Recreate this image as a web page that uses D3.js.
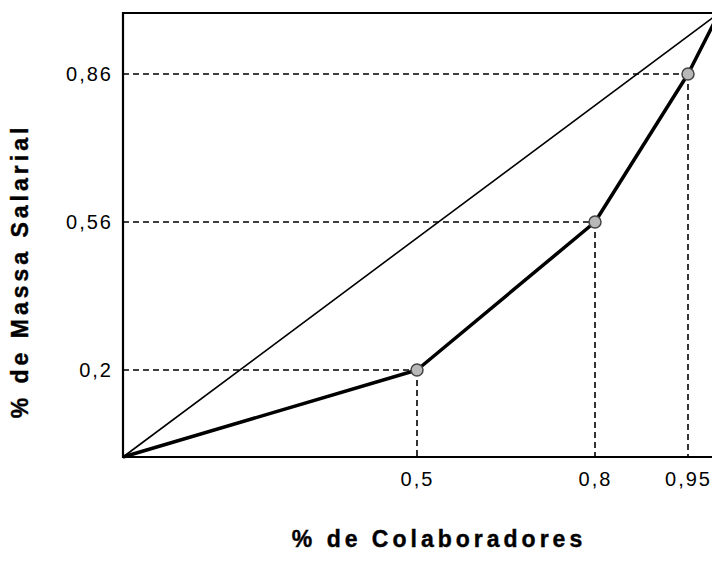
<!DOCTYPE html>
<html>
<head>
<meta charset="utf-8">
<script src="https://cdn.jsdelivr.net/npm/d3@7"></script>
<style>
  body { margin: 0; background: #fff; }
  svg { display: block; }
  .tick text { font-family: "Liberation Sans", Arial, sans-serif; font-size: 20px; letter-spacing: 2px; fill: #000; }
  .title { font-family: "Liberation Sans", Arial, sans-serif; font-weight: bold; font-size: 23px; letter-spacing: 4px; fill: #000; stroke: #000; stroke-width: 0.4px; }
</style>
</head>
<body>
<script>
// Lorenz curve points (share of employees, share of payroll)
let colaboradores = [0, 0.5, 0.8, 0.95, 1];
let massa = [0, 0.2, 0.56, 0.86, 1];
let xTicks = [0.5, 0.8, 0.95];
let yTicks = [0.2, 0.56, 0.86];

let data = colaboradores.map(function(c, i) { return {x: c, y: massa[i]}; });
let points = data.filter(function(d) { return d.x > 0 && d.x < 1; });

let W = 712, H = 561;

// the original drawing is not to scale, so the scales pin each tick where it sits
let xScale = d3.scaleLinear()
	.domain([0, 0.5, 0.8, 0.95, 1])
	.range([123, 417, 595, 688, 719]);
let yScale = d3.scaleLinear()
	.domain([0, 0.2, 0.56, 0.86, 1])
	.range([457, 370, 222, 74, 13]);

let locale = d3.formatLocale({decimal: ",", thousands: ".", grouping: [3], currency: ["", ""]});
let fmt = function(d) { return locale.format("")(d); };

let svg = d3.select("body").append("svg")
	.attr("width", W)
	.attr("height", H);

// dashed guide lines
let guides = svg.append("g")
	.attr("stroke", "#000")
	.attr("stroke-width", 1.6)
	.attr("stroke-dasharray", "6,4")
	.attr("fill", "none");
guides.selectAll(".h").data(points).join("line")
	.attr("x1", xScale(0))
	.attr("x2", function(d) { return xScale(d.x); })
	.attr("y1", function(d) { return yScale(d.y); })
	.attr("y2", function(d) { return yScale(d.y); });
guides.selectAll(".v").data(points).join("line")
	.attr("x1", function(d) { return xScale(d.x); })
	.attr("x2", function(d) { return xScale(d.x); })
	.attr("y1", function(d) { return yScale(d.y); })
	.attr("y2", yScale(0));

let line = d3.line()
	.x(function(d) { return xScale(d.x); })
	.y(function(d) { return yScale(d.y); });

// line of equality
svg.append("path")
	.datum([data[0], data[data.length - 1]])
	.attr("d", line)
	.attr("fill", "none")
	.attr("stroke", "#000")
	.attr("stroke-width", 1.6);

// Lorenz curve
svg.append("path")
	.datum(data)
	.attr("d", line)
	.attr("fill", "none")
	.attr("stroke", "#000")
	.attr("stroke-width", 3.5)
	.attr("stroke-linejoin", "round");

svg.selectAll(".dot").data(points).join("circle")
	.attr("cx", function(d) { return xScale(d.x); })
	.attr("cy", function(d) { return yScale(d.y); })
	.attr("r", 6)
	.attr("fill", "#b8b8b8")
	.attr("stroke", "#444")
	.attr("stroke-width", 1.5);

// frame
svg.append("path")
	.attr("d", "M" + xScale(1) + "," + yScale(1) + "H" + xScale(0) + "V" + yScale(0) + "H" + xScale(1))
	.attr("fill", "none")
	.attr("stroke", "#000")
	.attr("stroke-width", 2.2);

// axes (labels only)
let xAxis = d3.axisBottom(xScale).tickValues(xTicks).tickFormat(fmt).tickSize(0).tickPadding(15);
let yAxis = d3.axisLeft(yScale).tickValues(yTicks).tickFormat(fmt).tickSize(0).tickPadding(10);

svg.append("g").attr("transform", "translate(0," + yScale(0) + ")").call(xAxis)
	.call(function(g) { g.select(".domain").remove(); });
svg.append("g").attr("transform", "translate(" + xScale(0) + ",0)").call(yAxis)
	.call(function(g) { g.select(".domain").remove(); });

svg.append("text")
	.attr("class", "title")
	.attr("x", 439)
	.attr("y", 547)
	.attr("text-anchor", "middle")
	.text("% de Colaboradores");

svg.append("text")
	.attr("class", "title")
	.attr("transform", "translate(28,271) rotate(-90)")
	.attr("text-anchor", "middle")
	.text("% de Massa Salarial");
</script>
</body>
</html>
